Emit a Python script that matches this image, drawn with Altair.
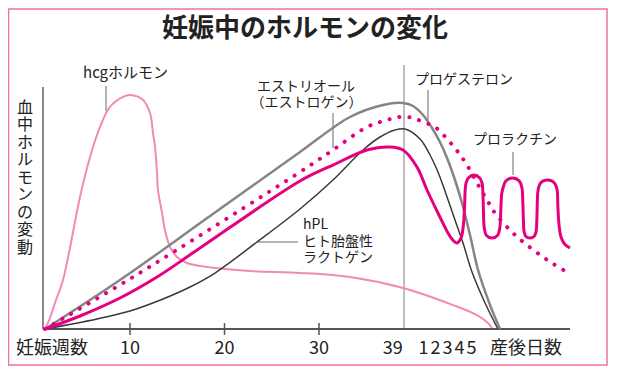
import altair as alt
import pandas as pd

# ---- data (x: weeks of pregnancy, continuing into postpartum days; y: relative level) ----
hcg_x = [1.0, 1.53, 2.06, 2.91, 4.71, 5.77, 6.83, 7.88, 9.26, 10.0, 11.38, 12.12, 12.43, 12.65, 12.86,
         12.96, 13.39, 13.7, 14.23, 14.97, 16.03, 18.15, 22.7, 27.99, 33.28, 38.89, 44.2, 46.72,
         47.88, 48.31]
hcg_y = [0, 4.5, 10.7, 20.1, 54.1, 70.5, 82.8, 91.0, 95.1, 95.9, 93.85, 88.52, 80.33, 74.59, 63.93,
         56.97, 47.54, 40.57, 33.61, 29.51, 27.05, 25.41, 23.8, 23.0, 21.3, 16.8, 9.8, 5.7, 2.5, 0.4]

prog_x = [1.0, 8.94, 18.47, 27.99, 33.28, 36.77, 38.89, 39.95, 41.01, 41.96, 42.8, 43.55, 44.39,
          45.13, 45.98, 46.83, 48.1, 49.15]
prog_y = [0, 20.08, 46.31, 72.54, 86.89, 91.8, 92.62, 91.39, 87.7, 82.38, 76.64, 70.08, 61.07,
          51.64, 38.52, 24.18, 9.84, 0]

hpl_x = [1.0, 6.51, 10.0, 13.49, 16.35, 18.99, 23.44, 27.99, 31.48, 34.66, 36.46, 38.04, 39.1,
         40.69, 41.75, 42.59, 43.55, 44.39, 45.24, 46.19, 47.67, 48.94]
hpl_y = [0, 4.1, 7.38, 12.3, 17.21, 22.95, 35.66, 49.18, 61.07, 73.36, 78.69, 81.56, 81.97,
         77.87, 71.31, 64.34, 54.1, 44.67, 35.25, 23.36, 9.84, 0]

estriol_x = [1.0, 10.32, 27.99, 31.48, 35.08, 37.2, 38.57, 39.95, 41.01, 42.28, 43.65, 44.71, 45.66,
             46.72, 47.78, 48.62, 50.53, 52.01, 53.7, 54.97, 56.24]
estriol_y = [0, 21.31, 64.34, 73.36, 82.79, 85.66, 86.89, 86.48, 84.84, 82.79, 77.46, 72.54, 67.21,
             59.84, 52.87, 47.54, 39.34, 34.43, 29.51, 26.23, 23.36]

prl_x = [1.01, 4.71, 8.94, 12.86, 17.41, 27.99, 31.48, 35.08, 37.51, 38.89, 40.37, 41.43, 42.59,
         43.65, 44.07, 44.6, 45.03, 45.29, 45.41, 45.47, 45.56, 45.8, 46.4, 47.01, 47.25, 47.33,
         47.4, 47.49, 47.72, 48.31, 48.89, 49.13, 49.24, 49.32, 49.47, 49.77, 50.48, 51.19, 51.48,
         51.56, 51.63, 51.71, 51.9, 52.33, 52.75, 52.96, 53.05, 53.11, 53.19, 53.47, 54.18, 54.89,
         55.19, 55.27, 55.4, 55.61, 55.98, 56.56]
prl_y = [0, 5.33, 12.7, 21.31, 33.2, 60.66, 67.21, 73.36, 74.59, 73.36, 66.39, 56.97, 47.54,
         39.34, 36.89, 35.25, 37.3, 43.03, 50.82, 56.97, 59.84, 61.89, 63.11, 61.89, 59.84, 56.97,
         48.77, 41.39, 38.32, 37.3, 38.32, 41.39, 48.77, 54.92, 57.79, 60.66, 61.89, 60.66, 57.79,
         52.87, 44.67, 39.75, 37.91, 37.3, 37.91, 39.75, 44.67, 52.87, 57.17, 59.96, 61.07, 59.96,
         57.17, 50.82, 42.62, 37.7, 34.84, 33.2]

title_text = "妊娠中のホルモンの変化"
ylabel_chars = ["血", "中", "ホ", "ル", "モ", "ン", "の", "変", "動"]
ylabel_top = 90.78   # level of the first character's centre
ylabel_step = 7.19   # vertical spacing between stacked characters, in level units
week_ticks = [10, 20, 30]
week_labels = ["10", "20", "30", "39"]
week_label_x = [10, 20, 30, 37.8]
day_labels = ["1", "2", "3", "4", "5"]
day_label_x = [41.07, 42.33, 43.6, 44.87, 46.14]

ann_text = ["hcgホルモン", "エストリオール", "（エストロゲン）", "プロゲステロン", "プロラクチン",
            "hPL", "ヒト胎盤性", "ラクトゲン"]
ann_x = [5.03, 23.44, 22.75, 40.16, 46.3, 28.31, 28.31, 28.31]
ann_y = [104.9, 99.2, 92.6, 102.0, 77.5, 42.6, 35.7, 29.1]
ann_size = [15, 14, 14, 14, 14, 14, 14, 14]

# leader lines: x, x2, y, y2
lead_x = [7.46, 31.48, 41.53, 50.53, 23.44]
lead_x2 = [7.46, 31.48, 41.53, 50.53, 27.78]
lead_y = [99.6, 88.5, 97.95, 72.54, 35.66]
lead_y2 = [89.3, 74.2, 84.84, 63.11, 35.66]

FONT = "Noto Sans CJK JP"
XS = alt.Scale(domain=[-2.910, 61.111], nice=False, zero=False)
YS = alt.Scale(domain=[-18.03, 131.56], nice=False, zero=False)


def series(xs, ys):
    return pd.DataFrame({"x": xs, "y": ys})


def line_layer(xs, ys, interp="catmull-rom", **kw):
    return alt.Chart(series(xs, ys)).mark_line(interpolate=interp, **kw).encode(
        x=alt.X("x:Q", scale=XS, axis=None),
        y=alt.Y("y:Q", scale=YS, axis=None),
    )


def rule(x, x2, y, y2, color, width):
    return alt.Chart(pd.DataFrame({"x": [x], "x2": [x2], "y": [y], "y2": [y2]})).mark_rule(
        color=color, strokeWidth=width
    ).encode(
        x=alt.X("x:Q", scale=XS, axis=None), x2="x2:Q",
        y=alt.Y("y:Q", scale=YS, axis=None), y2="y2:Q",
    )


layers = []

# border
layers.append(
    alt.Chart(pd.DataFrame({"x": [-2.857], "x2": [60.48], "y": [131.1], "y2": [-14.75]}))
    .mark_rect(fillOpacity=0, stroke="#f070a4", strokeWidth=1.5)
    .encode(x=alt.X("x:Q", scale=XS, axis=None), x2="x2:Q",
            y=alt.Y("y:Q", scale=YS, axis=None), y2="y2:Q")
)

# axes and guide lines
layers.append(rule(0.794, 0.794, 99.18, 0, "#8a8a8a", 2))
layers.append(rule(39.0, 39.0, 108.2, 0, "#a8a8a8", 1.5))
layers.append(rule(0.794, 56.56, 0, 0, "#555555", 2))
tick_df = pd.DataFrame({"x": week_ticks, "y": [2.46] * 3, "y2": [-2.46] * 3})
layers.append(
    alt.Chart(tick_df).mark_rule(color="#555555", strokeWidth=1.5).encode(
        x=alt.X("x:Q", scale=XS, axis=None), y=alt.Y("y:Q", scale=YS, axis=None), y2="y2:Q")
)

# leader lines
lead_df = pd.DataFrame({"x": lead_x, "x2": lead_x2, "y": lead_y, "y2": lead_y2})
layers.append(
    alt.Chart(lead_df).mark_rule(color="#9a9a9a", strokeWidth=1.5).encode(
        x=alt.X("x:Q", scale=XS, axis=None), x2="x2:Q",
        y=alt.Y("y:Q", scale=YS, axis=None), y2="y2:Q")
)

# curves
layers.append(line_layer(hcg_x, hcg_y, color="#f18ab4", strokeWidth=2))
layers.append(line_layer(hpl_x, hpl_y, color="#3a3a3a", strokeWidth=1.5))
layers.append(line_layer(prog_x, prog_y, color="#858585", strokeWidth=2.5))
layers.append(line_layer(estriol_x, estriol_y, color="#e5007f", strokeWidth=4,
                         strokeDash=[0.1, 10], strokeCap="round"))
layers.append(line_layer(prl_x, prl_y, color="#e5007f", strokeWidth=3))

# annotations
ann_df = pd.DataFrame({"x": ann_x, "y": ann_y, "t": ann_text, "s": ann_size})
layers.append(
    alt.Chart(ann_df).mark_text(font=FONT, align="left", baseline="middle", color="#222222").encode(
        x=alt.X("x:Q", scale=XS, axis=None), y=alt.Y("y:Q", scale=YS, axis=None),
        text="t:N", size=alt.Size("s:Q", scale=None, legend=None))
)

# title
layers.append(
    alt.Chart(pd.DataFrame({"x": [28.52], "y": [122.95], "t": [title_text]})).mark_text(
        font=FONT, fontSize=26, fontWeight="bold", align="center", baseline="middle", color="#222222"
    ).encode(x=alt.X("x:Q", scale=XS, axis=None), y=alt.Y("y:Q", scale=YS, axis=None), text="t:N")
)

# vertical y-axis title (one character per row)
yl_df = pd.DataFrame({
    "x": [-1.11] * len(ylabel_chars),
    "y": [ylabel_top - ylabel_step * i for i in range(len(ylabel_chars))],
    "t": ylabel_chars,
})
layers.append(
    alt.Chart(yl_df).mark_text(font=FONT, fontSize=16, align="center", baseline="middle",
                               color="#222222").encode(
        x=alt.X("x:Q", scale=XS, axis=None), y=alt.Y("y:Q", scale=YS, axis=None), text="t:N")
)

# x labels
xl_df = pd.DataFrame({
    "x": week_label_x + day_label_x,
    "t": week_labels + day_labels,
    "y": [-8.2] * (len(week_labels) + len(day_labels)),
})
layers.append(
    alt.Chart(xl_df).mark_text(font=FONT, fontSize=18, align="center", baseline="middle",
                               color="#222222").encode(
        x=alt.X("x:Q", scale=XS, axis=None), y=alt.Y("y:Q", scale=YS, axis=None), text="t:N")
)
side_df = pd.DataFrame({"x": [-2.06, 48.1], "y": [-8.2, -8.2], "t": ["妊娠週数", "産後日数"]})
layers.append(
    alt.Chart(side_df).mark_text(font=FONT, fontSize=18, align="left", baseline="middle",
                                 color="#222222").encode(
        x=alt.X("x:Q", scale=XS, axis=None), y=alt.Y("y:Q", scale=YS, axis=None), text="t:N")
)

chart = alt.layer(*layers).properties(
    width=605, height=365, padding=0, autosize=alt.AutoSizeParams(type="none"),
    background="white",
).configure_view(stroke=None)

chart.save("out.html", embed_options={"renderer": "svg", "actions": False})
